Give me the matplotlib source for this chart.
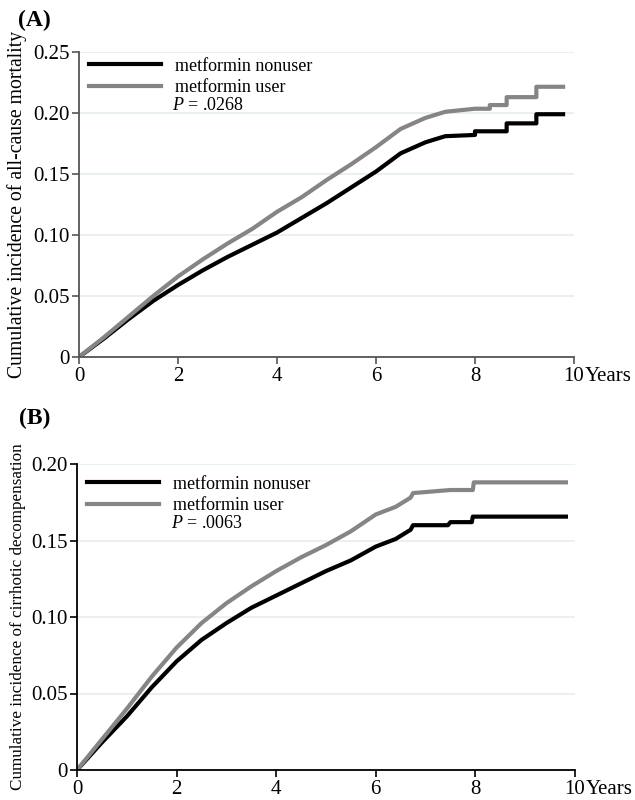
import matplotlib
matplotlib.use('Agg')
import matplotlib.pyplot as plt

plt.rcParams['font.family'] = ['Liberation Serif', 'DejaVu Serif']
plt.rcParams['mathtext.fontset'] = 'custom'
plt.rcParams['mathtext.rm'] = 'Liberation Serif'
plt.rcParams['mathtext.it'] = 'Liberation Serif:italic'

# Panel A: all-cause mortality (years, cumulative incidence)
a_years_non = [0, 0.5, 1, 1.5, 2, 2.5, 3, 3.5, 4, 4.5, 5, 5.5, 6, 6.5, 7, 7.4,
               8.0, 8.0, 8.64, 8.64, 9.24, 9.24, 9.78]
a_non = [0, 0.015, 0.031, 0.046, 0.059, 0.071, 0.082, 0.092, 0.102, 0.114, 0.126,
         0.139, 0.152, 0.167, 0.176, 0.181, 0.182, 0.185, 0.185, 0.1915, 0.1915,
         0.199, 0.199]
a_years_user = [0, 0.5, 1, 1.5, 2, 2.5, 3, 3.5, 4, 4.5, 5, 5.5, 6, 6.5, 7, 7.4,
                8.0, 8.3, 8.3, 8.64, 8.64, 9.24, 9.24, 9.78]
a_user = [0, 0.016, 0.033, 0.050, 0.066, 0.080, 0.093, 0.105, 0.119, 0.131, 0.145,
          0.158, 0.172, 0.187, 0.196, 0.201, 0.2035, 0.2035, 0.2065, 0.2065, 0.213,
          0.213, 0.2215, 0.2215]

# Panel B: cirrhotic decompensation
b_years_non = [0, 0.5, 1, 1.5, 2, 2.5, 3, 3.5, 4, 4.5, 5, 5.5, 6, 6.4, 6.7, 6.75,
               7.45, 7.5, 7.93, 7.95, 9.82]
b_non = [0, 0.018, 0.035, 0.054, 0.071, 0.085, 0.096, 0.106, 0.114, 0.122, 0.130,
         0.137, 0.146, 0.151, 0.157, 0.160, 0.160, 0.162, 0.162, 0.1656, 0.1656]
b_years_user = [0, 0.5, 1, 1.5, 2, 2.5, 3, 3.5, 4, 4.5, 5, 5.5, 6, 6.4, 6.7, 6.75,
                7.5, 7.95, 7.97, 9.82]
b_user = [0, 0.020, 0.040, 0.061, 0.080, 0.096, 0.109, 0.120, 0.130, 0.139, 0.147,
          0.156, 0.167, 0.172, 0.178, 0.181, 0.183, 0.183, 0.188, 0.188]

xticks = [0, 2, 4, 6, 8, 10]
a_yticks = [0, 0.05, 0.10, 0.15, 0.20, 0.25]
b_yticks = [0, 0.05, 0.10, 0.15, 0.20]
a_ylabels = ['0', '0.05', '0.10', '0.15', '0.20', '0.25']
b_ylabels = ['0', '0.05', '0.10', '0.15', '0.20']

fig = plt.figure(figsize=(6.35, 8), dpi=100)
ax1 = fig.add_axes([0.1244, 0.55375, 0.7795, 0.38125])
ax2 = fig.add_axes([0.1213, 0.0375, 0.784, 0.3825])


def style_panel(ax, yticks, ylabels, ylabel, label_size, label_x, spine_color,
                pval, leg_y):
    ax.set_xlim(0, 10)
    ax.set_ylim(0, yticks[-1])
    ax.set_xticks(xticks)
    ax.set_xticklabels([str(t) for t in xticks])
    ax.set_yticks(yticks)
    ax.set_yticklabels(ylabels)
    for s in ['top', 'right']:
        ax.spines[s].set_visible(False)
    for s in ['left', 'bottom']:
        ax.spines[s].set_color(spine_color)
        ax.spines[s].set_linewidth(1.3)
    ax.tick_params(direction='out', length=5, width=1.2, color=spine_color,
                   labelsize=15, pad=2)
    ax.yaxis.grid(True, color='#e4eef0', linewidth=1.2)
    ax.set_axisbelow(True)
    ax.set_ylabel(ylabel, fontsize=label_size)
    ax.yaxis.set_label_coords(label_x, 0.5)
    ax.annotate('Years', xy=(1, 0), xycoords='axes fraction', xytext=(8, -7),
                textcoords='offset points', ha='left', va='top', fontsize=15)
    ax.legend(loc='upper left', bbox_to_anchor=(0.005, leg_y), frameon=False,
              fontsize=13, handlelength=4.0, handletextpad=0.8,
              labelspacing=0.25, borderaxespad=0)
    ax.text(0.188, leg_y - 0.18, '$P$ = ' + pval, transform=ax.transAxes,
            fontsize=13, va='center', ha='left')


ax1.plot(a_years_non, a_non, color='black', lw=3, label='metformin nonuser')
ax1.plot(a_years_user, a_user, color='#858585', lw=3, label='metformin user')
style_panel(ax1, a_yticks, a_ylabels, 'Cumulative incidence of all-cause mortality',
            14.2, -0.105, '#555555', '.0268', 1.005)

ax2.plot(b_years_non, b_non, color='black', lw=3, label='metformin nonuser')
ax2.plot(b_years_user, b_user, color='#858585', lw=3, label='metformin user')
style_panel(ax2, b_yticks, b_ylabels, 'Cumulative incidence of cirrhotic decompensation',
            12.3, -0.102, 'black', '.0063', 0.985)

fig.text(0.028, 1 - 20 / 800, '(A)', fontsize=17, fontweight='bold', va='center')
fig.text(0.030, 1 - 418 / 800, '(B)', fontsize=17, fontweight='bold', va='center')

fig.savefig('out.png', dpi=100)
